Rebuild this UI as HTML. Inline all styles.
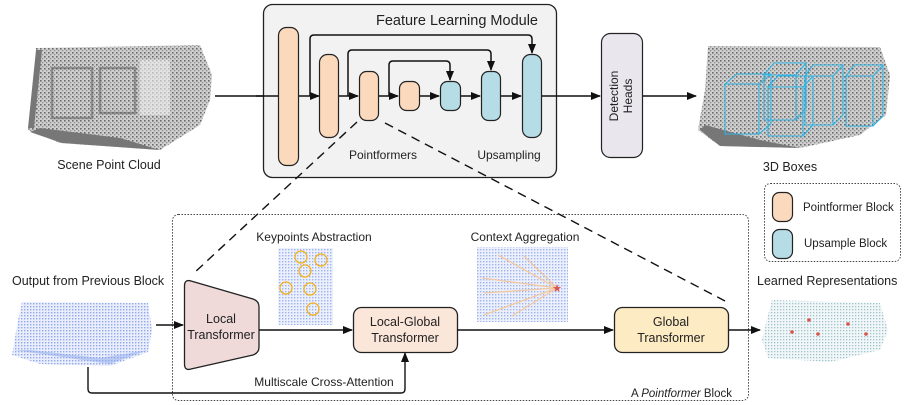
<!DOCTYPE html>
<html><head><meta charset="utf-8"><style>
html,body{margin:0;padding:0;background:#fff;}
svg{display:block;}
text{font-family:"Liberation Sans",sans-serif;fill:#222;}
</style></head><body>
<svg width="907" height="405" viewBox="0 0 907 405" xmlns="http://www.w3.org/2000/svg">
<defs>
<marker id="ar" markerWidth="10" markerHeight="10" refX="9" refY="5" orient="auto" markerUnits="userSpaceOnUse">
<path d="M0,1 L10,5 L0,9 Z" fill="#111"/></marker>
<pattern id="gd" width="4" height="4" patternUnits="userSpaceOnUse"><rect width="4" height="4" fill="#cfcfcf"/><rect x="0" y="0" width="1.6" height="1.6" fill="#6a6a6a"/><rect x="2" y="2" width="1.3" height="1.3" fill="#8a8a8a"/></pattern>
<pattern id="bd" width="3" height="3" patternUnits="userSpaceOnUse"><rect width="3" height="3" fill="#e6ebfb"/><rect x="0" y="0" width="1.4" height="1.4" fill="#7d99e6"/></pattern>
<pattern id="cd" width="3" height="3" patternUnits="userSpaceOnUse"><rect width="3" height="3" fill="#f1f7f8"/><rect x="0" y="0" width="1.3" height="1.3" fill="#9fc2cc"/></pattern>
</defs>

<!-- Scene point cloud -->
<g>
<path d="M36,48 L200,45 L212,75 L210,100 L200,125 L160,150 L60,143 L28,130 L36,95 Z" fill="url(#gd)"/>
<rect x="52" y="68" width="40" height="50" fill="none" stroke="#666" stroke-width="2.5" opacity=".6"/>
<rect x="100" y="68" width="35" height="45" fill="none" stroke="#666" stroke-width="2.5" opacity=".6"/>
<rect x="140" y="60" width="30" height="55" fill="#eee" opacity=".6"/>
<path d="M30,132 L62,143 L160,150 L120,138 L40,128Z" fill="#777"/>
<path d="M36,50 L42,50 L34,128 L28,128Z" fill="#777"/>
</g>
<text x="109" y="169" font-size="12.5" text-anchor="middle">Scene Point Cloud</text>
<line x1="215" y1="96" x2="278" y2="96" stroke="#111" stroke-width="1.5" marker-end="url(#ar)"/>

<!-- Feature Learning Module -->
<rect x="263.5" y="4.5" width="293" height="173" rx="9" fill="#f2f2f2" stroke="#222" stroke-width="1.3"/>
<text x="538" y="25" font-size="14.5" text-anchor="end">Feature Learning Module</text>
<g stroke="#111" stroke-width="1.5" fill="none">
<path d="M310,96 V39 Q310,35 314,35 H528 Q532,35 532,39 V53" marker-end="url(#ar)"/>
<path d="M348,96 V54 Q348,50 352,50 H487 Q491,50 491,54 V70" marker-end="url(#ar)"/>
<path d="M389,96 V65 Q389,61 393,61 H446 Q450,61 450,65 V80" marker-end="url(#ar)"/>
<line x1="298" y1="96" x2="319" y2="96" marker-end="url(#ar)"/>
<line x1="338" y1="96" x2="358" y2="96" marker-end="url(#ar)"/>
<line x1="378" y1="96" x2="398" y2="96" marker-end="url(#ar)"/>
<line x1="419" y1="96" x2="439" y2="96" marker-end="url(#ar)"/>
<line x1="460" y1="96" x2="480" y2="96" marker-end="url(#ar)"/>
<line x1="500" y1="96" x2="521" y2="96" marker-end="url(#ar)"/>
<line x1="541" y1="96" x2="600" y2="96" marker-end="url(#ar)"/>
<line x1="643" y1="96" x2="696" y2="96" marker-end="url(#ar)"/>
</g>
<line x1="256" y1="96" x2="278" y2="96" stroke="#111" stroke-width="1.5"/>
<g stroke="#222" stroke-width="1.2">
<rect x="278.5" y="27.5" width="20" height="138" rx="8" fill="#fbd9bd"/>
<rect x="319.5" y="54.5" width="19" height="83" rx="8" fill="#fbd9bd"/>
<rect x="359.5" y="71.5" width="19" height="49" rx="7" fill="#fbd9bd"/>
<rect x="399.5" y="81.5" width="20" height="29" rx="7" fill="#fbd9bd"/>
<rect x="440.5" y="81.5" width="20" height="29" rx="7" fill="#b6dde6"/>
<rect x="481.5" y="71.5" width="19" height="49" rx="7" fill="#b6dde6"/>
<rect x="522.5" y="54.5" width="19" height="83" rx="8" fill="#b6dde6"/>
</g>
<text x="383" y="159" font-size="12" text-anchor="middle">Pointformers</text>
<text x="509" y="159" font-size="12" text-anchor="middle">Upsampling</text>

<!-- Detection heads -->
<rect x="601.5" y="33.5" width="41" height="124" rx="9" fill="#e9e6ee" stroke="#222" stroke-width="1.2"/>
<text transform="translate(618,96) rotate(-90)" font-size="12" text-anchor="middle">Detection</text>
<text transform="translate(632,96) rotate(-90)" font-size="12" text-anchor="middle">Heads</text>

<!-- 3D boxes cloud -->
<path d="M708,46 L880,47 L890,75 L886,115 L860,135 L800,148 L720,146 L698,130 L705,90 Z" fill="url(#gd)"/>
<path d="M700,130 L720,146 L800,148 L760,140 L705,125Z" fill="#777"/>
<g stroke="#2fb4e6" stroke-width="1.1" fill="none">
<path d="M725,84 L759,84 L759,134 L725,134 Z M725,84 L737,74 L771,74 L771,124 L759,134 M759,84 L771,74"/>
<path d="M764,75 L796,75 L796,120 L764,120 Z M764,75 L774,63 L806,63 L806,108 L796,120 M796,75 L806,63"/>
<path d="M768,87 L803,87 L803,136 L768,136 Z M768,87 L778,76 L813,76 L813,125 L803,136 M803,87 L813,76"/>
<path d="M805,76 L833,76 L833,125 L805,125 Z M805,76 L813,65 L843,65 L843,115 L833,125 M833,76 L843,65"/>
<path d="M846,76 L873,76 L873,126 L846,126 Z M846,76 L854,65 L883,65 L883,116 L873,126 M873,76 L883,65"/>
</g>
<text x="790" y="171" font-size="12.5" text-anchor="middle">3D Boxes</text>

<!-- Legend -->
<rect x="764.5" y="183.5" width="136" height="78" rx="6" fill="#fff" stroke="#444" stroke-dasharray="1.5,1.5"/>
<rect x="772.5" y="192.5" width="20" height="29" rx="7" fill="#fbd9bd" stroke="#222" stroke-width="1.2"/>
<text x="803" y="211" font-size="11.5">Pointformer Block</text>
<rect x="772.5" y="229.5" width="20" height="29" rx="7" fill="#b6dde6" stroke="#222" stroke-width="1.2"/>
<text x="804" y="247" font-size="11.5">Upsample Block</text>

<!-- Pointformer block -->
<rect x="172.5" y="214.5" width="576" height="186" rx="6" fill="none" stroke="#444" stroke-dasharray="1.5,1.5"/>
<g stroke="#111" stroke-width="1.4" stroke-dasharray="9,6">
<line x1="357" y1="122" x2="194" y2="273"/>
<line x1="385" y1="123" x2="725" y2="301"/>
</g>
<text x="12" y="285" font-size="12.5">Output from Previous Block</text>
<path d="M22,302 L148,303 L152,330 L148,352 L110,366 L40,364 L12,355 L18,320 Z" fill="url(#bd)" opacity=".85"/>
<path d="M14,350 L110,364 L148,350 L100,358 L30,350Z" fill="#8ea8ea" opacity=".5"/>
<path d="M88,367 V389 Q88,393 92,393 H401 Q405,393 405,389 V353" fill="none" stroke="#111" stroke-width="1.4" marker-end="url(#ar)"/>
<line x1="156" y1="325" x2="183" y2="325" stroke="#111" stroke-width="1.4" marker-end="url(#ar)"/>
<path d="M184.5,286 Q184.5,279 191,281 L253,299 Q259,301 259,307 L259,347 Q259,353 253,355 L191,369 Q184.5,371 184.5,364 Z" fill="#efd9d9" stroke="#222" stroke-width="1.3"/>
<text x="221" y="323" font-size="12.5" text-anchor="middle">Local</text>
<text x="221" y="339" font-size="12.5" text-anchor="middle">Transformer</text>
<line x1="259" y1="330" x2="352" y2="330" stroke="#111" stroke-width="1.4" marker-end="url(#ar)"/>
<rect x="353.5" y="307.5" width="104" height="45" rx="8" fill="#fbe6da" stroke="#222" stroke-width="1.3"/>
<text x="405" y="326" font-size="12.5" text-anchor="middle">Local-Global</text>
<text x="405" y="342" font-size="12.5" text-anchor="middle">Transformer</text>
<line x1="457" y1="330" x2="613" y2="330" stroke="#111" stroke-width="1.4" marker-end="url(#ar)"/>
<rect x="614.5" y="307.5" width="114" height="45" rx="8" fill="#fdebc4" stroke="#222" stroke-width="1.3"/>
<text x="671" y="326" font-size="12.5" text-anchor="middle">Global</text>
<text x="671" y="342" font-size="12.5" text-anchor="middle">Transformer</text>
<line x1="729" y1="330" x2="760" y2="330" stroke="#111" stroke-width="1.4" marker-end="url(#ar)"/>
<text x="324" y="386" font-size="12" text-anchor="middle">Multiscale Cross-Attention</text>
<text x="732" y="397" font-size="11.5" text-anchor="end">A <tspan font-style="italic">Pointformer</tspan> Block</text>

<!-- Keypoints image -->
<text x="314" y="241" font-size="12" text-anchor="middle">Keypoints Abstraction</text>
<rect x="278" y="248" width="55" height="77" fill="url(#bd)" opacity=".75"/>
<g fill="none" stroke="#f3b21c" stroke-width="1.3">
<circle cx="301" cy="257" r="6"/><circle cx="321" cy="260" r="6"/><circle cx="305" cy="271" r="6"/>
<circle cx="286" cy="288" r="6"/><circle cx="310" cy="289" r="6"/><circle cx="313" cy="309" r="6"/>
</g>
<!-- Context image -->
<text x="525" y="241" font-size="12" text-anchor="middle">Context Aggregation</text>
<rect x="477" y="247" width="91" height="75" fill="url(#bd)" opacity=".75"/>
<g stroke="#f3c9a3" stroke-width="1.3">
<line x1="557" y1="288" x2="498" y2="255"/><line x1="557" y1="288" x2="524" y2="256"/>
<line x1="557" y1="288" x2="482" y2="278"/><line x1="557" y1="288" x2="484" y2="293"/>
<line x1="557" y1="288" x2="484" y2="315"/><line x1="557" y1="288" x2="512" y2="316"/>
</g>
<text x="557" y="292" font-size="11" text-anchor="middle" style="fill:#d9534f">★</text>

<!-- Learned representations -->
<text x="757" y="285" font-size="12.5">Learned Representations</text>
<path d="M772,300 L880,303 L888,330 L880,350 L830,362 L768,358 L762,340 L768,315 Z" fill="url(#cd)"/>
<g fill="#d9534f"><circle cx="809" cy="320" r="1.8"/><circle cx="792" cy="332" r="1.8"/><circle cx="818" cy="334" r="1.8"/><circle cx="848" cy="324" r="1.8"/><circle cx="866" cy="334" r="1.8"/></g>
</svg>
</body></html>
